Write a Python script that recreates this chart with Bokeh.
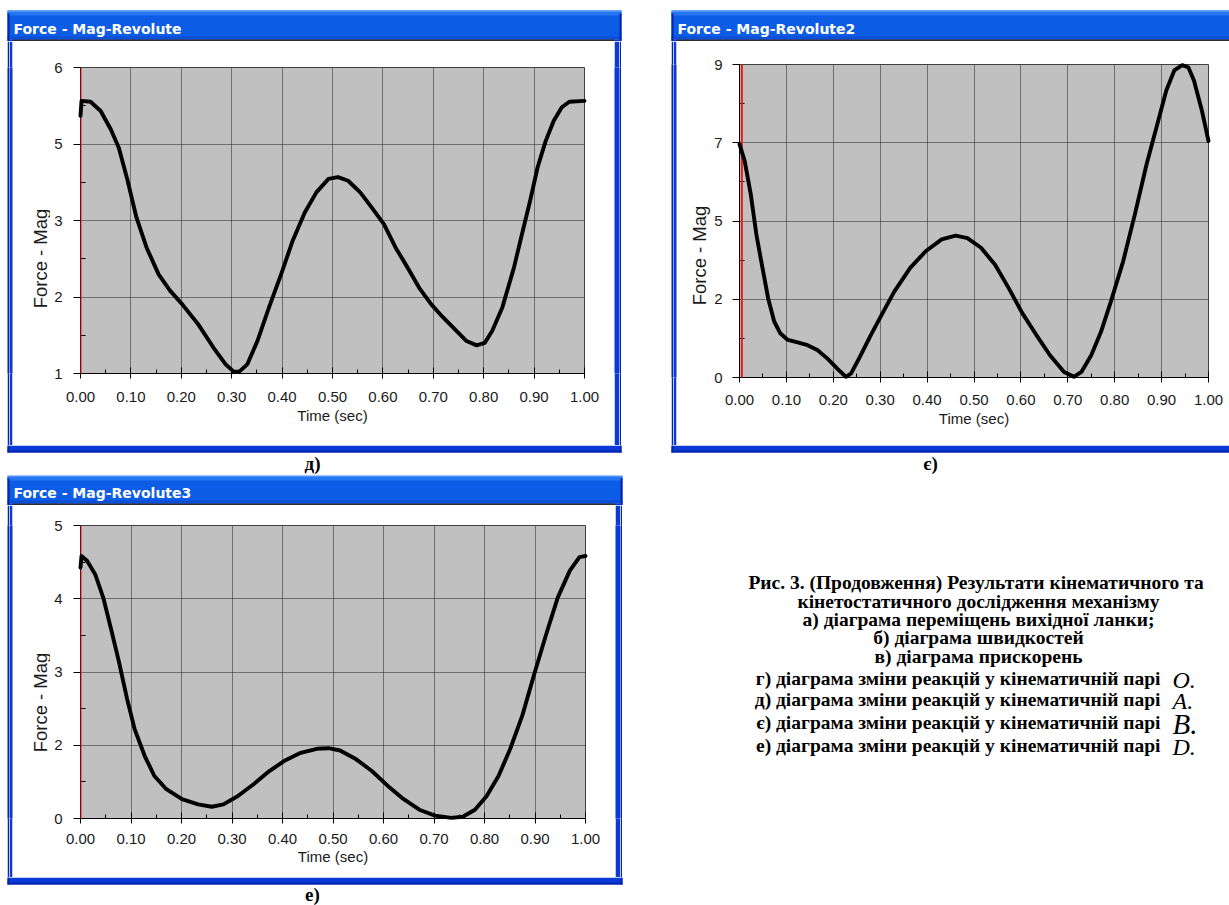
import math
from bokeh.plotting import figure
from bokeh.layouts import column, row
from bokeh.models import BoxAnnotation, Label, FixedTicker, Range1d, Span
from bokeh.embed import file_html
from bokeh.resources import INLINE

# ---------------- data ----------------
time_ticks = [0.0, 0.1, 0.2, 0.3, 0.4, 0.5, 0.6, 0.7, 0.8, 0.9, 1.0]
time_tick_labels = ["0.00", "0.10", "0.20", "0.30", "0.40", "0.50", "0.60", "0.70", "0.80", "0.90", "1.00"]
time_minor = [0.05, 0.15, 0.25, 0.35, 0.45, 0.55, 0.65, 0.75, 0.85, 0.95]

titles = ["Force - Mag-Revolute", "Force - Mag-Revolute2", "Force - Mag-Revolute3"]
sub_labels = ["д)", "є)", "е)"]
x_title = "Time (sec)"
y_title = "Force - Mag"

# chart д)
t_a = [0.0, 0.002, 0.02, 0.04, 0.06, 0.076, 0.092, 0.111, 0.131, 0.155, 0.178, 0.202, 0.233, 0.264, 0.288,
       0.304, 0.315, 0.331, 0.351, 0.374, 0.398, 0.421, 0.445, 0.468, 0.492, 0.511, 0.531, 0.555, 0.578,
       0.602, 0.625, 0.649, 0.672, 0.696, 0.719, 0.743, 0.766, 0.786, 0.802, 0.817, 0.837, 0.860, 0.876,
       0.892, 0.907, 0.923, 0.939, 0.955, 0.970, 1.0]
f_a = [5.21, 5.455, 5.44, 5.29, 4.99, 4.69, 4.20, 3.55, 3.06, 2.62, 2.35, 2.13, 1.81, 1.42, 1.15,
       1.03, 1.03, 1.15, 1.53, 2.08, 2.62, 3.17, 3.63, 3.96, 4.18, 4.21, 4.15, 3.96, 3.71,
       3.44, 3.06, 2.73, 2.40, 2.13, 1.92, 1.72, 1.53, 1.46, 1.50, 1.70, 2.08, 2.73, 3.28,
       3.82, 4.37, 4.80, 5.13, 5.35, 5.44, 5.455]
y_ticks_a = [1.0, 2.25, 3.5, 4.75, 6.0]
y_labels_a = ["1", "2", "3", "5", "6"]
y_minor_a = [1.625, 2.875, 4.125, 5.375]

# chart є)
t_b = [0.0, 0.011, 0.024, 0.036, 0.049, 0.061, 0.074, 0.087, 0.103, 0.124, 0.145, 0.166, 0.187, 0.208,
       0.227, 0.238, 0.255, 0.280, 0.305, 0.330, 0.364, 0.397, 0.431, 0.461, 0.486, 0.515, 0.545, 0.574,
       0.603, 0.633, 0.662, 0.692, 0.713, 0.729, 0.750, 0.771, 0.792, 0.818, 0.843, 0.868, 0.889, 0.910,
       0.927, 0.944, 0.957, 0.969, 0.986, 1.0]
f_b = [6.71, 6.23, 5.27, 4.11, 3.15, 2.28, 1.61, 1.27, 1.08, 1.01, 0.93, 0.79, 0.55, 0.26,
       0.02, 0.12, 0.55, 1.22, 1.85, 2.47, 3.15, 3.63, 3.97, 4.08, 4.01, 3.73, 3.24, 2.57,
       1.85, 1.22, 0.64, 0.16, 0.02, 0.16, 0.64, 1.32, 2.19, 3.34, 4.69, 6.13, 7.19, 8.25,
       8.83, 8.98, 8.92, 8.54, 7.67, 6.80]
y_ticks_b = [0.0, 2.25, 4.5, 6.75, 9.0]
y_labels_b = ["0", "2", "5", "7", "9"]
y_minor_b = [1.125, 3.375, 5.625, 7.875]

# chart е)
t_c = [0.0, 0.002, 0.013, 0.029, 0.045, 0.060, 0.076, 0.092, 0.107, 0.127, 0.146, 0.170, 0.201, 0.233,
       0.260, 0.283, 0.311, 0.342, 0.374, 0.405, 0.436, 0.468, 0.491, 0.514, 0.546, 0.577, 0.608, 0.640,
       0.671, 0.702, 0.734, 0.757, 0.781, 0.804, 0.828, 0.851, 0.875, 0.898, 0.922, 0.945, 0.969, 0.988, 1.0]
f_c = [4.28, 4.48, 4.40, 4.17, 3.77, 3.25, 2.68, 2.05, 1.53, 1.07, 0.73, 0.50, 0.33, 0.24,
       0.20, 0.24, 0.38, 0.58, 0.81, 0.99, 1.12, 1.19, 1.20, 1.16, 1.01, 0.81, 0.56, 0.33,
       0.15, 0.05, 0.01, 0.03, 0.15, 0.38, 0.73, 1.19, 1.76, 2.45, 3.14, 3.77, 4.23, 4.46, 4.48]
y_ticks_c = [0.0, 1.25, 2.5, 3.75, 5.0]
y_labels_c = ["0", "2", "3", "4", "5"]
y_minor_c = [0.625, 1.875, 3.125, 4.375]

cursor_times = [0.0, 0.005, 0.0]

caption_lines = [
    "Рис. 3. (Продовження)  Результати кінематичного та",
    "кінетостатичного дослідження механізму",
    "а) діаграма переміщень вихідної ланки;",
    "б) діаграма швидкостей",
    "в) діаграма прискорень",
]
pair_lines = [
    "г) діаграма зміни реакцій у кінематичній парі",
    "д) діаграма зміни реакцій у кінематичній парі",
    "є) діаграма зміни реакцій у кінематичній парі",
    "е) діаграма зміни реакцій у кінематичній парі",
]
pair_letters = ["O.", "A.", "B.", "D."]

# ---------------- styling ----------------
BORDER_BLUE = "#0a3ad8"
BORDER_DARK = "#0524b0"
TITLE_BLUE = "#0c5ce6"
TITLE_LIGHT = "#4a94fa"
TITLE_MID = "#2676f2"
TITLE_LOW = "#0a4fd6"
INNER_LINE = "#303030"
COMMON = dict(output_backend="svg", toolbar_location=None, title=None,
              x_axis_location=None, y_axis_location=None)


def panel(w, h, x0=0, y0=0):
    p = figure(width=w, height=h, x_range=Range1d(x0, x0 + w), y_range=Range1d(y0 + h, y0),
               min_border=0, background_fill_color="white", border_fill_color="white",
               outline_line_color=None, **COMMON)
    p.grid.visible = False
    return p


def solid(w, h, color):
    p = figure(width=w, height=h, x_range=Range1d(0, 1), y_range=Range1d(0, 1), min_border=0,
               background_fill_color=color, border_fill_color=color, outline_line_color=None, **COMMON)
    p.grid.visible = False
    return p


def box(p, l, r, t, b, color):
    p.add_layout(BoxAnnotation(left=l, right=r, top=t, bottom=b,
                               fill_color=color, fill_alpha=1.0, line_alpha=0.0))


def lab(p, x, y, text, size, font="Liberation Sans", style="normal", color="black",
        align="left", baseline="alphabetic", angle=0.0):
    p.add_layout(Label(x=x, y=y, text=text, text_font=font, text_font_size=size,
                       text_font_style=style, text_color=color, text_align=align,
                       text_baseline=baseline, angle=angle))


def title_piece(w, h, x_off, y_off, L, R, bar_top, bar_bot, text, text_x, text_y):
    # coordinates are page pixels; (x_off, y_off) is the page position of this piece
    p = panel(w, h, x_off, y_off)
    box(p, L, R, bar_top, bar_bot, TITLE_BLUE)
    box(p, L, R, bar_top, bar_top + 2, TITLE_LIGHT)
    box(p, L, R, bar_top + 2, bar_top + 5, TITLE_MID)
    box(p, L, R, bar_bot - 3, bar_bot, TITLE_LOW)
    box(p, L, R, bar_bot, y_off + h, BORDER_BLUE)
    box(p, L + 5, R - 7, bar_bot, y_off + h, INNER_LINE)
    box(p, L, L + 2, bar_top + 3, y_off + h, BORDER_DARK)
    box(p, R - 2, R, bar_top + 3, y_off + h, BORDER_DARK)
    lab(p, text_x, text_y, text, "14px", font="DejaVu Sans", style="bold", color="white",
        baseline="middle")
    return p


def bottom_piece(w, h, x_off, y_off, L, R, sub, sub_xy):
    p = panel(w, h, x_off, y_off)
    box(p, L, R, y_off, y_off + 7, BORDER_BLUE)
    box(p, L, R, y_off + 5, y_off + 7, BORDER_DARK)
    box(p, L, L + 2, y_off, y_off + 7, BORDER_DARK)
    box(p, R - 2, R, y_off, y_off + 7, BORDER_DARK)
    lab(p, sub_xy[0], sub_xy[1], sub, "19px", font="Liberation Serif", style="bold",
        align="center", baseline="middle")
    return p


def ytitle_piece(w, h, x_off, frame_top, frame_bot, mb_top, mb_bot, center):
    p = figure(width=w, height=h, x_range=Range1d(x_off, x_off + w),
               y_range=Range1d(frame_bot, frame_top),
               min_border_left=0, min_border_right=0, min_border_top=mb_top, min_border_bottom=mb_bot,
               background_fill_color="white", border_fill_color="white", outline_line_color=None, **COMMON)
    p.grid.visible = False
    lab(p, center[0], center[1], y_title, "18.5px", color="#1a1a1a",
        align="center", baseline="middle", angle=math.pi / 2)
    return p


def chart(t, f, yt, yl, ym, cursor, W, H, mb, xl_standoff, xt_standoff, yl_standoff=11):
    ml, mr, mt, mbot = mb
    p = figure(width=W, height=H, title=None,
               x_range=Range1d(0, 1), y_range=Range1d(yt[0], yt[-1]),
               output_backend="svg", toolbar_location=None,
               min_border_left=ml, min_border_right=mr,
               min_border_top=mt, min_border_bottom=mbot,
               background_fill_color="#c0c0c0", border_fill_color="white",
               outline_line_color="#404040", outline_line_width=1)

    xt = FixedTicker(ticks=time_ticks, minor_ticks=time_minor)
    ytk = FixedTicker(ticks=yt, minor_ticks=ym)
    p.xaxis.ticker = xt
    p.yaxis.ticker = ytk
    p.xgrid.ticker = xt
    p.ygrid.ticker = ytk
    p.xaxis.major_label_overrides = dict(zip(time_ticks, time_tick_labels))
    p.yaxis.major_label_overrides = dict(zip(yt, yl))

    for ax in (p.xaxis[0], p.yaxis[0]):
        ax.axis_line_color = "black"
        ax.major_tick_line_color = "black"
        ax.minor_tick_line_color = "black"
        ax.major_label_text_font = "Liberation Sans"
        ax.major_label_text_font_size = "15px"
        ax.major_label_text_color = "#1a1a1a"
    p.xaxis.major_tick_in = 6
    p.xaxis.major_tick_out = 5
    p.xaxis.minor_tick_in = 4
    p.xaxis.minor_tick_out = 0
    p.xaxis.major_label_standoff = xl_standoff
    p.xaxis.axis_label = x_title
    p.xaxis.axis_label_text_font = "Liberation Sans"
    p.xaxis.axis_label_text_font_size = "15px"
    p.xaxis.axis_label_text_font_style = "normal"
    p.xaxis.axis_label_text_color = "#1a1a1a"
    p.xaxis.axis_label_standoff = xt_standoff

    p.yaxis.major_tick_in = 0
    p.yaxis.major_tick_out = 7
    p.yaxis.minor_tick_in = 5
    p.yaxis.minor_tick_out = 0
    p.yaxis.major_label_standoff = yl_standoff
    p.yaxis.major_label_orientation = "horizontal"

    for g in (p.xgrid[0], p.ygrid[0]):
        g.grid_line_color = "#1e1e1e"
        g.grid_line_dash = "1 1"
        g.grid_line_width = 1

    p.add_layout(Span(location=cursor, dimension="height", line_color="#e81a1a", line_width=2))
    p.line(t, f, line_color="black", line_width=3.9, line_join="round", line_cap="round", level="overlay")
    return p


# ---- window 1 (д): page x 0..640, y 0..475 ----
H1 = 404  # middle band y 41..445
c1 = chart(t_a, f_a, y_ticks_a, y_labels_a, y_minor_a, cursor_times[0], 564, H1, (30, 30, 26, 72), 13, 2)
w1 = column(
    title_piece(640, 41, 0, 0, 7, 621, 10, 39, titles[0], 13, 28),
    row(solid(7, H1, "white"), solid(2, H1, BORDER_DARK), solid(3, H1, BORDER_BLUE), solid(1, H1, INNER_LINE),
        ytitle_piece(37, H1, 13, 67, 373, 26, 72, (40, 258)),
        c1,
        solid(5, H1, BORDER_BLUE), solid(2, H1, BORDER_DARK), solid(19, H1, "white")),
    bottom_piece(640, 30, 0, 445, 7, 621, sub_labels[0], (312, 463)),
)

# ---- window 2 (є): page x 640..1229, y 0..475 ----
c2 = chart(t_b, f_b, y_ticks_b, y_labels_b, y_minor_b, cursor_times[1], 518, H1, (28, 21, 23, 68), 12, 2, 10)
w2 = column(
    title_piece(589, 41, 640, 0, 671, 1240, 10, 39, titles[1], 677, 28),
    row(solid(31, H1, "white"), solid(2, H1, BORDER_DARK), solid(3, H1, BORDER_BLUE), solid(1, H1, INNER_LINE),
        ytitle_piece(34, H1, 677, 64, 377, 23, 68, (699, 255)),
        c2),
    bottom_piece(589, 30, 640, 445, 671, 1240, sub_labels[1], (930, 463)),
)

# ---- window 3 (е): page x 0..640, y 475..905 ----
H3 = 372  # middle band y 505..877
c3 = chart(t_c, f_c, y_ticks_c, y_labels_c, y_minor_c, cursor_times[2], 565, H3, (30, 30, 20, 59), 10, 1)
w3 = column(
    title_piece(640, 30, 0, 475, 7, 622, 475, 503, titles[2], 13, 492),
    row(solid(7, H3, "white"), solid(2, H3, BORDER_DARK), solid(3, H3, BORDER_BLUE), solid(1, H3, INNER_LINE),
        ytitle_piece(37, H3, 13, 525, 818, 20, 59, (40, 702)),
        c3,
        solid(5, H3, BORDER_BLUE), solid(2, H3, BORDER_DARK), solid(18, H3, "white")),
    bottom_piece(640, 28, 0, 877, 7, 622, sub_labels[2], (312, 894)),
)

# ---- caption: page x 640..1229, y 475..905 ----
p4 = panel(589, 430, 640, 475)
cap_y = [582, 601, 619, 637, 656]
for cy, txt in zip(cap_y, caption_lines):
    lab(p4, 978, cy, txt, "19.5px", font="Liberation Serif", style="bold", align="center", baseline="middle")

pair_y = [678, 699, 722, 745]
letter_sizes = ["24px", "24px", "29px", "24px"]
for y, txt, let, ls in zip(pair_y, pair_lines, pair_letters, letter_sizes):
    lab(p4, 1160, y, txt, "19.5px", font="Liberation Serif", style="bold", align="right", baseline="middle")
    lab(p4, 1172, y + 1, let, ls, font="Liberation Serif", style="italic", baseline="middle")

layout = column(row(w1, w2), row(w3, p4))
open("out.html", "w").write(file_html(layout, INLINE))
